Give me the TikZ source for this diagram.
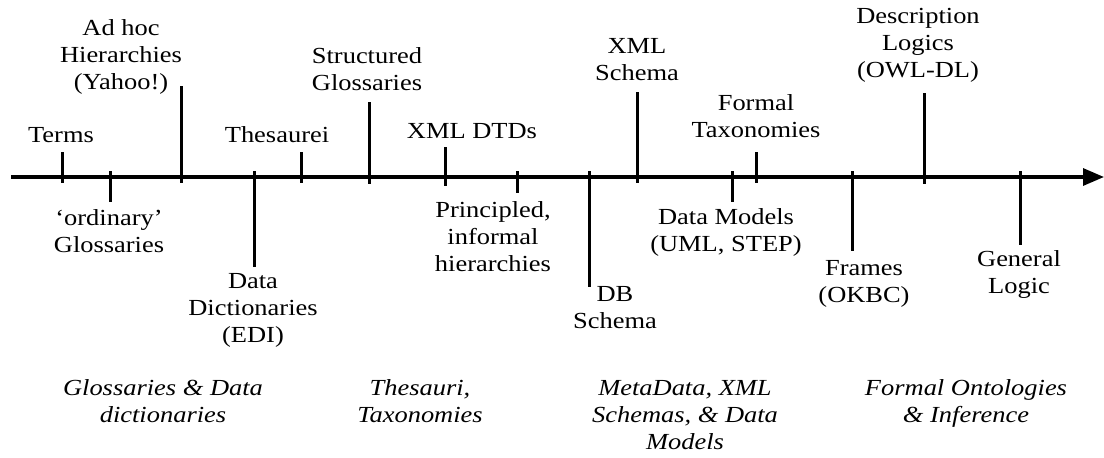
\documentclass[tikz,border=0pt]{standalone}
\usepackage{fontspec}
\usetikzlibrary{arrows.meta}
\newfontfamily\lbfont[FakeStretch=1.15]{Liberation Serif}
\begin{document}
\begin{tikzpicture}[x=1pt,y=-1pt,
  % labels are placed by their top edge; the strut fixes the first line's height
  lbl/.style={font=\lbfont\fontsize{23}{27}\selectfont, align=center, inner sep=0pt,
              anchor=north, execute at begin node=\strut},
  era/.style={lbl, font=\lbfont\itshape\fontsize{23}{27}\selectfont},
  tick/.style={line width=3pt},
  axisline/.style={line width=3.2pt, -{Triangle[length=21pt,width=17pt]}}]
\useasboundingbox (0,0) rectangle (1104,458);

% time axis
\coordinate (ax0) at (11,177);
\coordinate (ax1) at (1104,177);
\draw[axisline] (ax0) -- (ax1);

% tick marks: name, x, top y, bottom y
\foreach \n/\x/\ya/\yb in {terms/62/152/183, ordin/110/171/202, adhoc/181/86/183,
    datadict/254/171/267, thes/301/152/183, struct/369/102/184, dtd/445/147/186,
    princ/517/171/193, db/589/171/287, xsch/637/92/183, dmod/732/171/202,
    ftax/756/152/183, frames/852/171/251, dl/924/93/184, glogic/1020/171/245}{
  \coordinate (\n-a) at (\x,\ya);
  \coordinate (\n-b) at (\x,\yb);
  \draw[tick] (\n-a) -- (\n-b);
}

% node tops sit 18.9pt (strut height) above the first baseline
\def\up{18.9}

% labels above the axis
\node[lbl] (tTerms) at (61,142-\up) {Terms};
\node[lbl] (tAdhoc) at (121,38-\up) {Ad hoc\\Hierarchies\\(Yahoo!)};
\node[lbl] (tThes) at (277,142-\up) {Thesaurei};
\node[lbl] (tStruct) at (367,66-\up) {Structured\\Glossaries};
\node[lbl] (tDTD) at (472,138-\up) {XML DTDs};
\node[lbl] (tXSch) at (637,57-\up) {XML\\Schema};
\node[lbl] (tFTax) at (756,113-\up) {Formal\\Taxonomies};
\node[lbl] (tDL) at (918,27-\up) {Description\\Logics\\(OWL-DL)};

% labels below the axis
\node[lbl] (tOrdin) at (109,228-\up) {‘ordinary’\\Glossaries};
\node[lbl] (tDataDict) at (253,292-\up) {Data\\Dictionaries\\(EDI)};
\node[lbl] (tPrinc) at (493,220-\up) {Principled,\\informal\\hierarchies};
\node[lbl] (tDB) at (615,305-\up) {DB\\Schema};
\node[lbl] (tDMod) at (726,227-\up) {Data Models\\(UML, STEP)};
\node[lbl] (tFrames) at (864,279-\up) {Frames\\(OKBC)};
\node[lbl] (tGLogic) at (1019,269-\up) {General\\Logic};

% eras
\node[era] (eGloss) at (163,398-\up) {Glossaries \& Data\\dictionaries};
\node[era] (eThes) at (420,398-\up) {Thesauri,\\Taxonomies};
\node[era] (eMeta) at (685,399-\up) {MetaData, XML\\Schemas, \& Data\\Models};
\node[era] (eOnto) at (966,398-\up) {Formal Ontologies\\\& Inference};
\end{tikzpicture}
\end{document}
